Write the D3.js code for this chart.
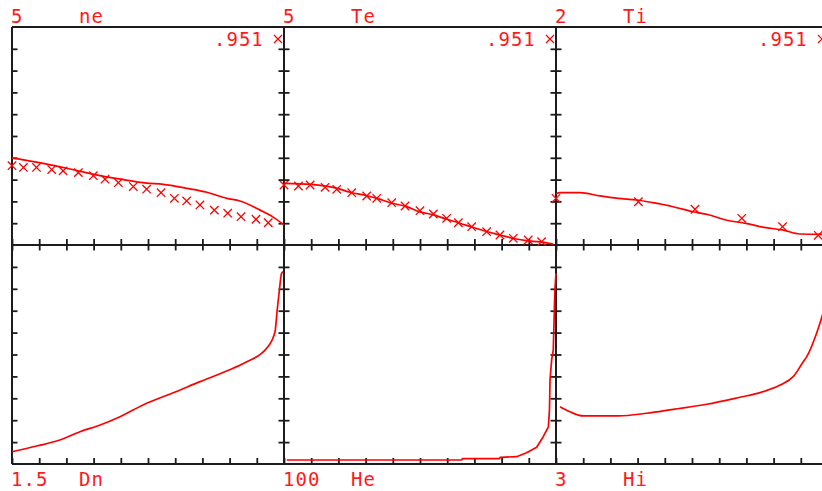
<!DOCTYPE html>
<html>
<head>
<meta charset="utf-8">
<script src="https://cdn.jsdelivr.net/npm/d3@7"></script>
<style>
  html, body { margin: 0; padding: 0; background: #fff; overflow: hidden; }
  svg { display: block; }
  text { font-family: "DejaVu Sans Mono", "Liberation Mono", monospace; font-size: 19px; fill: #ff1a1a; letter-spacing: 1px; }
</style>
</head>
<body>
<svg id="chart" width="822" height="491"></svg>
<script>
// Profile panels: top row ne, Te, Ti; bottom row Dn, He, Hi.
const topNames = ["ne", "Te", "Ti"];
const topMax = [5, 5, 2];
const topMaxLabels = ["5", "5", "2"];
const bottomNames = ["Dn", "He", "Hi"];
const bottomMax = [1.5, 100, 3];
const bottomMaxLabels = ["1.5", "100", "3"];
const fitLabel = ".951";
const gridSteps = [0.1, 0.2, 0.3, 0.4, 0.5, 0.6, 0.7, 0.8, 0.9];

// ne: computed profile and measured points
const neX = [0, 0.09, 0.2, 0.3, 0.4, 0.495, 0.556, 0.642, 0.716, 0.79, 0.838, 0.912, 0.96, 1.0];
const neY = [2.00, 1.90, 1.76, 1.62, 1.51, 1.42, 1.39, 1.30, 1.21, 1.07, 1.01, 0.80, 0.64, 0.46];
const neMarkX = [0, 0.042, 0.09, 0.146, 0.188, 0.244, 0.299, 0.342, 0.391, 0.446, 0.495, 0.548, 0.597, 0.642, 0.691, 0.744, 0.793, 0.842, 0.897, 0.942];
const neMarkY = [1.82, 1.78, 1.78, 1.73, 1.70, 1.66, 1.59, 1.51, 1.43, 1.34, 1.28, 1.20, 1.07, 1.01, 0.92, 0.80, 0.73, 0.65, 0.59, 0.51];

// Te
const teX = [0, 0.098, 0.196, 0.243, 0.305, 0.342, 0.39, 0.451, 0.5, 0.55, 0.598, 0.647, 0.696, 0.745, 0.794, 0.843, 0.892, 0.941, 0.99];
const teY = [1.415, 1.39, 1.30, 1.21, 1.13, 1.07, 0.97, 0.88, 0.76, 0.69, 0.59, 0.50, 0.40, 0.31, 0.23, 0.15, 0.10, 0.07, 0.02];
const teMarkX = [0, 0.053, 0.096, 0.151, 0.194, 0.249, 0.304, 0.341, 0.396, 0.445, 0.5, 0.549, 0.598, 0.641, 0.69, 0.745, 0.794, 0.843, 0.898, 0.947];
const teMarkY = [1.376, 1.353, 1.376, 1.323, 1.277, 1.20, 1.124, 1.07, 0.97, 0.895, 0.787, 0.711, 0.612, 0.511, 0.42, 0.305, 0.229, 0.154, 0.115, 0.076];

// Ti
const tiX = [0, 0.015, 0.088, 0.162, 0.229, 0.297, 0.356, 0.43, 0.503, 0.565, 0.624, 0.698, 0.771, 0.833, 0.897, 1.0];
const tiY = [0.47, 0.48, 0.48, 0.45, 0.428, 0.413, 0.388, 0.351, 0.305, 0.275, 0.229, 0.199, 0.159, 0.138, 0.101, 0.098];
const tiMarkX = [0, 0.303, 0.511, 0.683, 0.833, 0.964];
const tiMarkY = [0.428, 0.397, 0.328, 0.245, 0.168, 0.089];

// Dn
const dnX = [0, 0.091, 0.176, 0.25, 0.324, 0.397, 0.495, 0.593, 0.691, 0.789, 0.863, 0.936, 0.967, 0.975, 0.983, 0.991, 0.997];
const dnY = [0.084, 0.123, 0.164, 0.221, 0.267, 0.324, 0.416, 0.488, 0.564, 0.637, 0.70, 0.792, 0.906, 1.055, 1.19, 1.306, 1.317];

// He
const heX = [0.01, 0.653, 0.656, 0.792, 0.795, 0.855, 0.892, 0.929, 0.953, 0.972, 0.976, 0.978, 0.984, 0.99, 0.993, 0.996, 1.0];
const heY = [1.83, 1.83, 2.42, 2.42, 3.06, 3.33, 5.16, 7.63, 12.47, 17.0, 24.7, 38.4, 47.5, 52.1, 65.8, 79.5, 87.1];

// Hi
const hiX = [0.015, 0.051, 0.1, 0.229, 0.333, 0.431, 0.554, 0.676, 0.75, 0.824, 0.872, 0.909, 0.922, 0.958, 0.978, 1.0];
const hiY = [0.785, 0.716, 0.658, 0.658, 0.695, 0.749, 0.818, 0.914, 0.977, 1.082, 1.196, 1.40, 1.47, 1.79, 2.02, 2.35];

const zip = (xs, ys) => xs.map((x, i) => [x, ys[i]]);
const topLines = [zip(neX, neY), zip(teX, teY), zip(tiX, tiY)];
const topMarks = [zip(neMarkX, neMarkY), zip(teMarkX, teMarkY), zip(tiMarkX, tiMarkY)];
const bottomLines = [zip(dnX, dnY), zip(heX, heY), zip(hiX, hiY)];
// He keeps its stepped shape; the other profiles are drawn smooth
const bottomCurves = [d3.curveMonotoneX, d3.curveLinear, d3.curveMonotoneX];

const svg = d3.select("#chart");
const RED = "#ff0000";
const AXIS = "#1c1c1c";

const panelW = 272;
const colLeft = [12, 284, 556];
const rowTop = 27, rowMid = 245, rowBot = 464;

const crossPath = s => `M${-s},${-s}L${s},${s}M${-s},${s}L${s},${-s}`;

const gAxes = svg.append("g");
const gData = svg.append("g");
const gText = svg.append("g");

function styleAxis(g) {
  g.select(".domain").remove();
  g.selectAll(".tick line").attr("stroke", AXIS).attr("stroke-width", 1.8);
  g.selectAll(".tick text").remove();
}

function drawPanel(col, isTop) {
  const left = colLeft[col];
  const top = isTop ? rowTop : rowMid;
  const bottom = isTop ? rowMid : rowBot;
  const max = isTop ? topMax[col] : bottomMax[col];

  const x = d3.scaleLinear().domain([0, 1]).range([left, left + panelW]);
  const y = d3.scaleLinear().domain([0, max]).range([bottom, top]);
  const yTicks = gridSteps.map(f => f * max);

  // inward ticks on the left and right edges
  gAxes.append("g").attr("transform", `translate(${left},0)`)
    .call(d3.axisRight(y).tickValues(yTicks).tickSize(5.5).tickFormat(""))
    .call(styleAxis);
  gAxes.append("g").attr("transform", `translate(${left + panelW},0)`)
    .call(d3.axisLeft(y).tickValues(yTicks).tickSize(5.5).tickFormat(""))
    .call(styleAxis);
  // inward ticks on the bottom edge
  gAxes.append("g").attr("transform", `translate(0,${bottom})`)
    .call(d3.axisTop(x).tickValues([0].concat(gridSteps)).tickSize(6).tickFormat(""))
    .call(styleAxis);
  // bottom-row panels also tick their top edge
  if (!isTop) {
    gAxes.append("g").attr("transform", `translate(0,${top})`)
      .call(d3.axisBottom(x).tickValues([0].concat(gridSteps)).tickSize(5.5).tickFormat(""))
      .call(styleAxis);
  }

  const line = d3.line().x(d => x(d[0])).y(d => y(d[1]))
    .curve(isTop ? d3.curveMonotoneX : bottomCurves[col]);
  const series = isTop ? topLines[col] : bottomLines[col];
  gData.append("path").datum(series)
    .attr("d", line)
    .attr("fill", "none")
    .attr("stroke", RED)
    .attr("stroke-width", 1.7)
    .attr("stroke-linejoin", "round");

  if (isTop) {
    gData.selectAll(null).data(topMarks[col]).enter().append("path")
      .attr("transform", d => `translate(${x(d[0])},${y(d[1])})`)
      .attr("d", crossPath(4.2))
      .attr("fill", "none")
      .attr("stroke", RED)
      .attr("stroke-width", 1.3);

    // fit value and marker key in the upper right corner
    gText.append("text")
      .attr("x", left + 202).attr("y", 46)
      .text(fitLabel);
    gData.append("path")
      .attr("transform", `translate(${left + panelW - 6},${39})`)
      .attr("d", crossPath(4))
      .attr("fill", "none")
      .attr("stroke", RED)
      .attr("stroke-width", 1.2);

    gText.append("text").attr("x", left - 1).attr("y", 23).text(topMaxLabels[col]);
    gText.append("text").attr("x", left + 67).attr("y", 23).text(topNames[col]);
  } else {
    gText.append("text").attr("x", left - 1).attr("y", 486).text(bottomMaxLabels[col]);
    gText.append("text").attr("x", left + 67).attr("y", 486).text(bottomNames[col]);
  }
}

for (let c = 0; c < 3; c++) {
  drawPanel(c, true);
  drawPanel(c, false);
}

// panel frames
const frameRight = colLeft[2] + panelW;
[rowTop, rowMid, rowBot].forEach(yy => {
  gAxes.append("line")
    .attr("x1", colLeft[0]).attr("x2", frameRight)
    .attr("y1", yy).attr("y2", yy)
    .attr("stroke", AXIS).attr("stroke-width", 2);
});
colLeft.concat([frameRight]).forEach(xx => {
  gAxes.append("line")
    .attr("x1", xx).attr("x2", xx)
    .attr("y1", rowTop).attr("y2", rowBot)
    .attr("stroke", AXIS).attr("stroke-width", 2);
});
</script>
</body>
</html>
